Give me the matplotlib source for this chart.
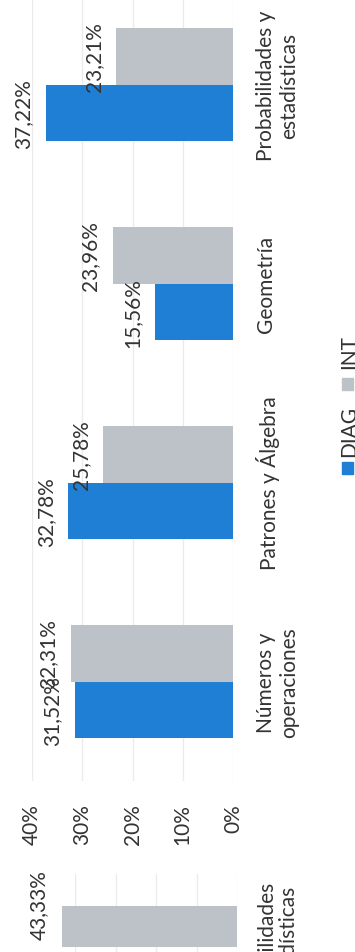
import numpy as np
import matplotlib.pyplot as plt
from matplotlib.patches import Rectangle

# --- data ---
categories = ["Números y\noperaciones", "Patrones y Álgebra", "Geometría",
              "Probabilidades y\nestadísticas"]
diag = [31.52, 32.78, 15.56, 37.22]
inter = [32.31, 25.78, 23.96, 23.21]
xticks = [0, 10, 20, 30, 40]
series_names = ["DIAG", "INT"]

# neighbouring chart, only partly visible at the bottom of the scan
frag_category = "Probabilidades\ny estadísticas"
frag_inter = [43.33]

# --- style ---
plt.rcParams['font.family'] = ['Lato', 'DejaVu Sans']
blue = "#1E7FD5"
gray = "#BDC2C9"
text_c = "#333333"
grid_c = "#EBEBEB"
fs = 15

W, H = 355, 953


def fx(px):
    return px / W


def fy(py):
    return 1 - py / H


def pct(v):
    return f"{v:.2f}".replace(".", ",") + "%"


fig = plt.figure(figsize=(W / 100, H / 100), dpi=100)

# main chart (drawn rotated: value axis horizontal, 0% on the right)
ax = fig.add_axes([fx(32), fy(782), fx(233) - fx(32), (782 + 14) / H])
pos = np.arange(len(categories))
h = 0.284
ax.barh(pos - h / 2, diag, height=h, color=blue, zorder=2)
ax.barh(pos + h / 2, inter, height=h, color=gray, zorder=2)
ax.set_xlim(40, 0)
ax.set_ylim(-0.5, len(categories) - 0.5)
ax.set_xticks(xticks)
ax.set_xticklabels([f"{t}%" for t in xticks], rotation=90, fontsize=fs, color=text_c)
ax.tick_params(axis='x', length=0, pad=16)
ax.set_yticks([])
ax.grid(True, axis='x', color=grid_c, linewidth=1, zorder=0)
for s in ax.spines.values():
    s.set_visible(False)

for y, v in zip(pos - h / 2, diag):
    ax.annotate(pct(v), xy=(v, y), xytext=(-9, 0), textcoords='offset points',
                rotation=90, ha='right', va='center', fontsize=fs, color=text_c)
for y, v in zip(pos + h / 2, inter):
    ax.annotate(pct(v), xy=(v, y), xytext=(-9, 0), textcoords='offset points',
                rotation=90, ha='right', va='center', fontsize=fs, color=text_c)

xa = (256 - 32) / (233 - 32)
for p, c in zip(pos, categories):
    ax.text(xa, p, c, transform=ax.get_yaxis_transform(), rotation=90,
            ha='left', va='center', multialignment='center', fontsize=fs, color=text_c)

# legend, drawn by hand since it is rotated too
fig.patches.append(Rectangle((fx(342), fy(475)), 11 / W, 12 / H, transform=fig.transFigure,
                             color=blue))
fig.patches.append(Rectangle((fx(342), fy(391)), 11 / W, 12 / H, transform=fig.transFigure,
                             color=gray))
fig.text(fx(339), fy(431), series_names[0], rotation=90, ha='left', va='center',
         fontsize=fs, color=text_c)
fig.text(fx(339), fy(352), series_names[1], rotation=90, ha='left', va='center',
         fontsize=fs, color=text_c)

# fragment of the next chart
ax2 = fig.add_axes([fx(75), fy(1021), fx(237) - fx(75), 146 / H])
ax2.barh([h / 2], frag_inter, height=h, color=gray, zorder=2, clip_on=False)
ax2.set_xlim(40, 0)
ax2.set_ylim(-0.5, 0.5)
ax2.set_xticks(xticks)
ax2.set_xticklabels([])
ax2.tick_params(length=0)
ax2.set_yticks([])
ax2.grid(True, axis='x', color=grid_c, linewidth=1, zorder=0)
for s in ax2.spines.values():
    s.set_visible(False)
ax2.annotate(pct(frag_inter[0]), xy=(frag_inter[0], h / 2), xytext=(-9, 16),
             textcoords='offset points', rotation=90, ha='right', va='center',
             fontsize=fs, color=text_c, annotation_clip=False)
ax2.text((256 - 75) / (237 - 75), 0, frag_category, transform=ax2.get_yaxis_transform(),
         rotation=90, ha='left', va='center', multialignment='center',
         fontsize=fs, color=text_c)

fig.savefig("out.png", dpi=100)
